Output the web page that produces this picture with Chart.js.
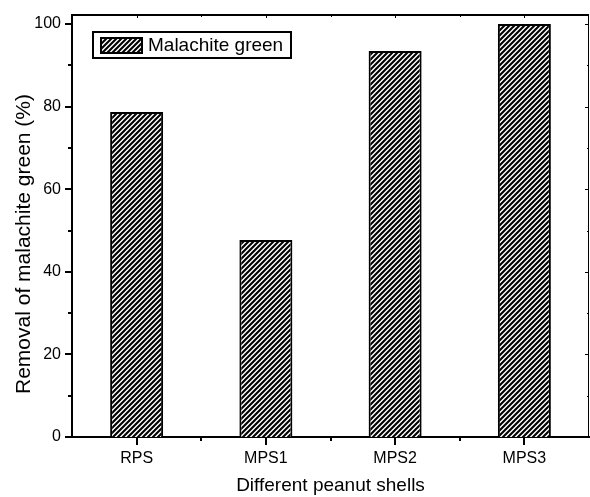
<!DOCTYPE html>
<html>
<head>
<meta charset="utf-8">
<script src="https://cdn.jsdelivr.net/npm/chart.js@4.4.0/dist/chart.umd.min.js"></script>
<style>
body { margin: 0; background: #fff; }
#wrap { width: 590px; height: 497px; position: relative; }
</style>
</head>
<body>
<div id="wrap"><canvas id="c"></canvas></div>
<script>
var categories = ['RPS', 'MPS1', 'MPS2', 'MPS3'];
var removal = [78.7, 47.7, 93.5, 100];
var yTicks = [0, 20, 40, 60, 80, 100];
var yMinorTicks = [10, 30, 50, 70, 90];
var seriesName = 'Malachite green';
var xTitle = 'Different peanut shells';
var yTitle = 'Removal of malachite green (%)';

var FONT = '"Liberation Sans", Arial, Helvetica, sans-serif';

function hatch() {
    var p = document.createElement('canvas');
    p.width = 5; p.height = 5;
    var g = p.getContext('2d');
    g.fillStyle = '#fff';
    g.fillRect(0, 0, 5, 5);
    g.strokeStyle = '#000';
    g.lineWidth = 2.1;
    g.beginPath();
    g.moveTo(-1, 6); g.lineTo(6, -1);
    g.moveTo(-1, 1); g.lineTo(1, -1);
    g.moveTo(4, 6); g.lineTo(6, 4);
    g.stroke();
    return g.createPattern(p, 'repeat');
}

var pattern = hatch();

// ticks, frame, y title and legend box in the origin style
var framePlugin = {
    id: 'frame',
    afterDraw: function (chart) {
        var ctx = chart.ctx;
        var a = chart.chartArea;
        var x = chart.scales.x, y = chart.scales.y;
        ctx.save();
        ctx.strokeStyle = '#000';

        // top and right border
        ctx.lineWidth = 2;
        ctx.beginPath();
        ctx.moveTo(a.left - 1, a.top); ctx.lineTo(a.right, a.top);
        ctx.stroke();
        ctx.lineWidth = 1;
        ctx.beginPath();
        ctx.moveTo(a.right - 0.5, a.top); ctx.lineTo(a.right - 0.5, a.bottom);
        ctx.stroke();

        // y ticks
        ctx.lineWidth = 2;
        ctx.beginPath();
        yTicks.forEach(function (v) {
            var py = Math.round(y.getPixelForValue(v));
            ctx.moveTo(a.left - 7, py); ctx.lineTo(a.left, py);
        });
        yMinorTicks.forEach(function (v) {
            var py = Math.round(y.getPixelForValue(v));
            ctx.moveTo(a.left - 4, py); ctx.lineTo(a.left, py);
        });
        ctx.stroke();
        ctx.lineWidth = 1;
        ctx.beginPath();
        yTicks.forEach(function (v) {
            var py = Math.round(y.getPixelForValue(v)) + 0.5;
            ctx.moveTo(a.right - 4, py); ctx.lineTo(a.right, py);
        });
        yMinorTicks.forEach(function (v) {
            var py = Math.round(y.getPixelForValue(v)) + 0.5;
            ctx.moveTo(a.right - 2, py); ctx.lineTo(a.right, py);
        });
        ctx.stroke();

        // x ticks
        ctx.lineWidth = 2;
        ctx.beginPath();
        categories.forEach(function (c, i) {
            var px = Math.round(x.getPixelForValue(i));
            ctx.moveTo(px, a.bottom); ctx.lineTo(px, a.bottom + 8);
            if (i < categories.length - 1) {
                var mx = Math.round((x.getPixelForValue(i) + x.getPixelForValue(i + 1)) / 2);
                ctx.moveTo(mx, a.bottom); ctx.lineTo(mx, a.bottom + 4);
            }
        });
        ctx.stroke();
        ctx.lineWidth = 1;
        ctx.beginPath();
        categories.forEach(function (c, i) {
            var px = Math.round(x.getPixelForValue(i)) + 0.5;
            ctx.moveTo(px, a.top); ctx.lineTo(px, a.top + 3);
            if (i < categories.length - 1) {
                var mx = Math.round((x.getPixelForValue(i) + x.getPixelForValue(i + 1)) / 2) + 0.5;
                ctx.moveTo(mx, a.top); ctx.lineTo(mx, a.top + 2);
            }
        });
        ctx.stroke();

        // y title, sits a bit below the plot centre in the original
        ctx.fillStyle = '#000';
        ctx.font = '21px ' + FONT;
        ctx.textAlign = 'center';
        ctx.textBaseline = 'middle';
        ctx.save();
        ctx.translate(24, 244);
        ctx.rotate(-Math.PI / 2);
        ctx.fillText(yTitle, 0, 0);
        ctx.restore();

        // legend
        var lx = 93, ly = 32, lw = 198, lh = 26;
        ctx.fillStyle = '#fff';
        ctx.fillRect(lx, ly, lw, lh);
        ctx.lineWidth = 2;
        ctx.strokeRect(lx, ly, lw, lh);
        ctx.fillStyle = pattern;
        ctx.fillRect(101, 38, 41, 15);
        ctx.strokeRect(101, 38, 41, 15);
        ctx.fillStyle = '#000';
        ctx.font = '19px ' + FONT;
        ctx.textAlign = 'left';
        ctx.fillText(chart.data.datasets[0].label, 148, 46);
        ctx.restore();
    }
};

new Chart(document.getElementById('c'), {
    type: 'bar',
    data: {
        labels: categories,
        datasets: [{
            label: seriesName,
            data: removal,
            backgroundColor: pattern,
            borderColor: '#000',
            borderWidth: 2,
            categoryPercentage: 1,
            barPercentage: 0.41
        }]
    },
    options: {
        responsive: true,
        maintainAspectRatio: false,
        animation: false,
        layout: { padding: { left: 0, right: 1, top: 15, bottom: 0 } },
        plugins: {
            legend: { display: false },
            tooltip: { enabled: false }
        },
        scales: {
            x: {
                grid: { display: false },
                border: { display: true, color: '#000', width: 2 },
                ticks: { color: '#000', font: { family: FONT, size: 16 }, padding: 4, maxRotation: 0 },
                title: { display: true, text: xTitle, color: '#000', font: { family: FONT, size: 19 }, padding: { top: 0, bottom: 0 } },
                afterFit: function (s) { s.height = 60; }
            },
            y: {
                min: 0,
                max: 102.2,
                grid: { display: false },
                border: { display: true, color: '#000', width: 2 },
                ticks: { color: '#000', font: { family: FONT, size: 16 }, padding: 3 },
                afterBuildTicks: function (s) {
                    s.ticks = yTicks.map(function (v) { return { value: v }; });
                },
                title: { display: false },
                afterFit: function (s) { s.width = 72; }
            }
        }
    },
    plugins: [framePlugin]
});
</script>
</body>
</html>
